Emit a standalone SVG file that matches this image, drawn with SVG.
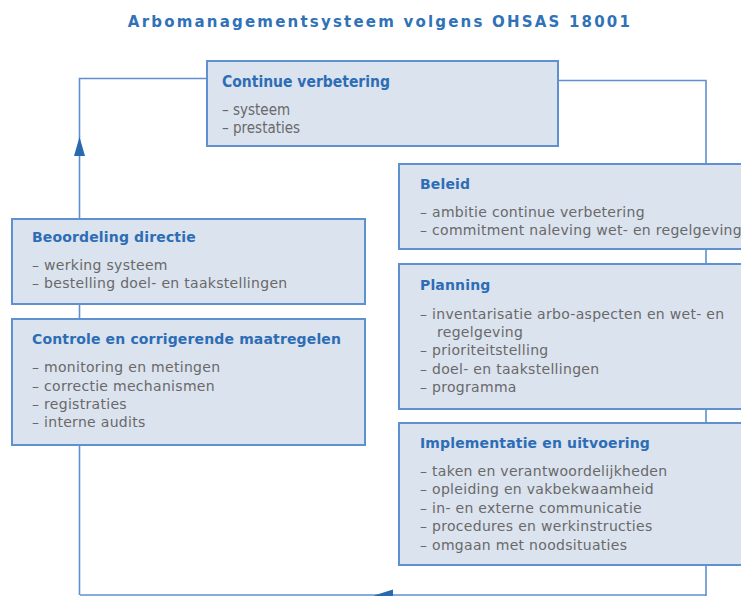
<svg xmlns="http://www.w3.org/2000/svg" width="741" height="596" viewBox="0 0 741 596">
<defs>
<style>
.bg{fill:#ffffff}
.box{fill:#dbe3ef;stroke:#5f90cf;stroke-width:2}
.ln{fill:none;stroke:#5f8fd0;stroke-width:1.6}
.title{font-family:"DejaVu Sans",Verdana,sans-serif;font-weight:bold;font-size:15px;fill:#2f72b8;letter-spacing:2.2px}
.h{font-family:"DejaVu Sans",Verdana,sans-serif;font-weight:bold;font-size:14px;fill:#2d6db5;letter-spacing:0.15px}
.t{font-family:"DejaVu Sans",Verdana,sans-serif;font-size:14px;fill:#696969;letter-spacing:0.3px}
.hn{font-family:"DejaVu Sans Condensed","DejaVu Sans",sans-serif;font-weight:bold;font-size:15.5px;fill:#2d6db5}
.tn{font-family:"DejaVu Sans Condensed","DejaVu Sans",sans-serif;font-size:15px;fill:#696969}
.ah{fill:#2a68b0}
</style>
</defs>
<rect class="bg" x="0" y="0" width="741" height="596"/>
<text class="title" x="380" y="27" text-anchor="middle">Arbomanagementsysteem volgens OHSAS 18001</text>

<g id="connectors">
<path class="ln" d="M558 80.5 H706 V596"/>
<path class="ln" d="M79.5 595 V140 M79.5 150 V78.5 H207"/>
<path class="ln" d="M80 595 H706"/>
<polygon class="ah" points="79.5,137 74,156 85,156"/>
<polygon class="ah" points="374,595.5 393,589.5 393,601.5"/>
</g>

<g id="continue-verbetering">
<rect class="box" x="207" y="61" width="351" height="85"/>
<text class="hn" x="222" y="87">Continue verbetering</text>
<text class="tn" x="222" y="115">– systeem</text>
<text class="tn" x="222" y="133">– prestaties</text>
</g>

<g id="beleid">
<rect class="box" x="399" y="164" width="350" height="85"/>
<text class="h" x="420" y="189">Beleid</text>
<text class="t" x="420" y="217">– ambitie continue verbetering</text>
<text class="t" x="420" y="235">– commitment naleving wet- en regelgeving</text>
</g>

<g id="planning">
<rect class="box" x="399" y="264" width="350" height="145"/>
<text class="h" x="420" y="290">Planning</text>
<text class="t" x="420" y="319">– inventarisatie arbo-aspecten en wet- en</text>
<text class="t" x="437" y="337">regelgeving</text>
<text class="t" x="420" y="355">– prioriteitstelling</text>
<text class="t" x="420" y="374">– doel- en taakstellingen</text>
<text class="t" x="420" y="392">– programma</text>
</g>

<g id="implementatie">
<rect class="box" x="399" y="423" width="350" height="142"/>
<text class="h" x="420" y="448">Implementatie en uitvoering</text>
<text class="t" x="420" y="476">– taken en verantwoordelijkheden</text>
<text class="t" x="420" y="494">– opleiding en vakbekwaamheid</text>
<text class="t" x="420" y="513">– in- en externe communicatie</text>
<text class="t" x="420" y="531">– procedures en werkinstructies</text>
<text class="t" x="420" y="550">– omgaan met noodsituaties</text>
</g>

<g id="beoordeling-directie">
<rect class="box" x="12" y="219" width="353" height="85"/>
<text class="h" x="32" y="242">Beoordeling directie</text>
<text class="t" x="32" y="270">– werking systeem</text>
<text class="t" x="32" y="288">– bestelling doel- en taakstellingen</text>
</g>

<g id="controle">
<rect class="box" x="12" y="319" width="353" height="126"/>
<text class="h" x="32" y="344">Controle en corrigerende maatregelen</text>
<text class="t" x="32" y="372">– monitoring en metingen</text>
<text class="t" x="32" y="391">– correctie mechanismen</text>
<text class="t" x="32" y="409">– registraties</text>
<text class="t" x="32" y="427">– interne audits</text>
</g>
</svg>
